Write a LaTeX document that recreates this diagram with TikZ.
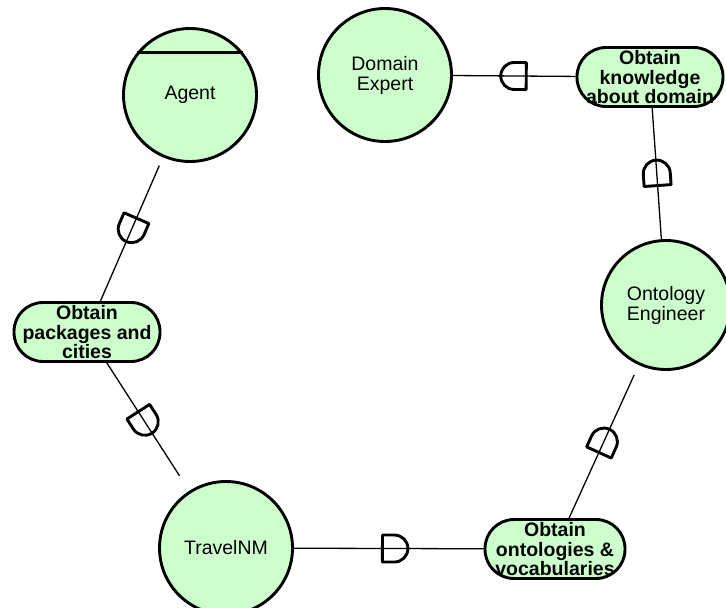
\documentclass[tikz,border=0pt]{standalone}
\usepackage{fontspec}
\setmainfont{Liberation Sans}
\usetikzlibrary{calc}

\definecolor{actorgreen}{RGB}{204,255,204}

\begin{document}
\begin{tikzpicture}[x=1pt,y=-1pt,
    actor/.style={circle,draw,line width=2.9pt,fill=actorgreen,inner sep=0pt,
      minimum size=133pt,align=center,font=\fontsize{19.5}{20}\selectfont},
    goal/.style={rectangle,rounded corners=29pt,draw,line width=2.9pt,fill=actorgreen,
      minimum width=146pt,minimum height=59pt,inner sep=0pt,align=center,text depth=0pt,
      font=\bfseries\fontsize{19.5}{19.5}\selectfont},
    link/.style={line width=1.3pt},
    dep/.pic={\draw[line width=2.9pt,line join=round]
      (-12,-13.5) -- (-12,13.5) -- (0,13.5)
      arc[start angle=90,end angle=-90,radius=13.5] -- cycle;}]
  \useasboundingbox (0,0) rectangle (726,608);

  % actors
  \node[actor] (agent) at (190,95) {Agent};
  \draw[line width=2.9pt] (agent.141) -- (agent.39);
  \node[actor] (expert) at (385,75) {Domain\\Expert};
  \node[actor,minimum size=129pt] (engineer) at (666,305) {Ontology\\Engineer};
  \node[actor] (travel) at (226,548) {TravelNM};

  % goals
  \node[goal] (knowledge) at (650,77) {Obtain\\knowledge\\about domain};
  \node[goal] (packages) at (87,332) {Obtain\\packages and\\cities};
  \node[goal,minimum width=140pt] (ontologies) at (555,549) {Obtain\\ontologies \&\\vocabularies};

  % dependencies
  \draw[link,shorten <=9pt] (agent) -- (packages)
    pic[pos=.5,sloped,allow upside down] {dep};
  \draw[link,shorten >=18pt] (packages) -- (travel)
    pic[pos=.46,sloped,allow upside down] {dep};
  \draw[link] (travel) -- (ontologies)
    pic[pos=.53,sloped,allow upside down] {dep};
  \draw[link,shorten >=11pt] (ontologies) -- (engineer)
    pic[pos=.5,sloped,allow upside down] {dep};
  \draw[link] (engineer) -- (knowledge)
    pic[pos=.5,sloped,allow upside down] {dep};
  \draw[link] (knowledge) -- (expert)
    pic[pos=.5,sloped,allow upside down] {dep};
\end{tikzpicture}
\end{document}
